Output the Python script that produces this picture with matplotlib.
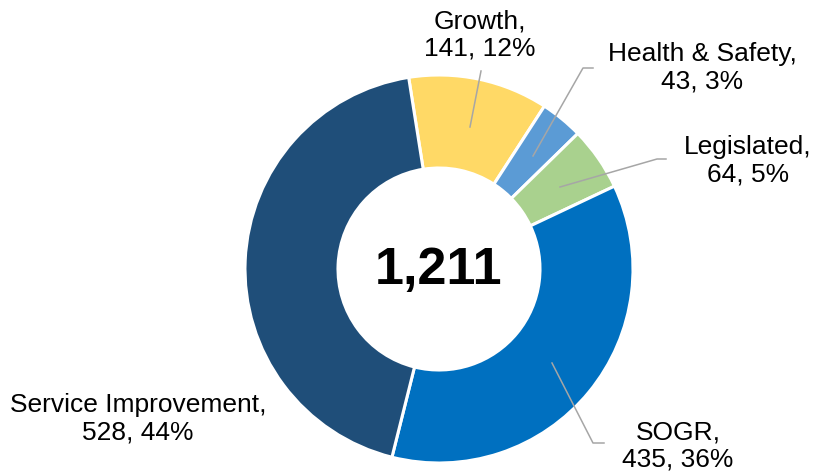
import matplotlib
matplotlib.use("Agg")
import matplotlib.pyplot as plt
import numpy as np

categories = ["Growth", "Health & Safety", "Legislated", "SOGR", "Service Improvement"]
values = [141, 43, 64, 435, 528]
percents = [12, 3, 5, 36, 44]
colors = ["#FFD966", "#5B9BD5", "#A9D18E", "#0070C0", "#1F4E79"]
total_label = "1,211"

plt.rcParams['font.family'] = ['Liberation Sans', 'DejaVu Sans']

W, H = 817, 472
fig = plt.figure(figsize=(W / 100, H / 100), dpi=100)
ax = fig.add_axes([0, 0, 1, 1])
ax.axis('off')

cx, cy, R = 439, H - 269, 194
ax.pie(values, colors=colors, startangle=99, counterclock=False,
       center=(cx, cy), radius=R,
       wedgeprops=dict(width=93, edgecolor='white', linewidth=2.2))
ax.set_xlim(0, W)
ax.set_ylim(0, H)
ax.set_aspect('auto')

ax.text(cx, cy - 1, total_label, ha='center', va='center', fontsize=37.5, fontweight='bold')

# label layout (image pixel coords): text center, leader line points
layout = {
    "Growth": ((480, 35), [(470, 127), (481, 71)]),
    "Health & Safety": ((702, 68), [(533, 156), (583, 68), (593, 68)]),
    "Legislated": ((748, 161), [(560, 187), (657, 159), (666, 159)]),
    "SOGR": ((678, 446), [(552, 363), (593, 443), (604, 443)]),
    "Service Improvement": ((138, 419), []),
}
for cat, v, p in zip(categories, values, percents):
    (tx, ty), pts = layout[cat]
    ax.text(tx, H - ty, f"{cat},\n{v}, {p}%", ha='center', va='center',
            fontsize=19, linespacing=1.2, color='black')
    if pts:
        xs = [q[0] for q in pts]
        ys = [H - q[1] for q in pts]
        ax.plot(xs, ys, color='#A6A6A6', lw=1.1)

fig.savefig("out.png", dpi=100)
